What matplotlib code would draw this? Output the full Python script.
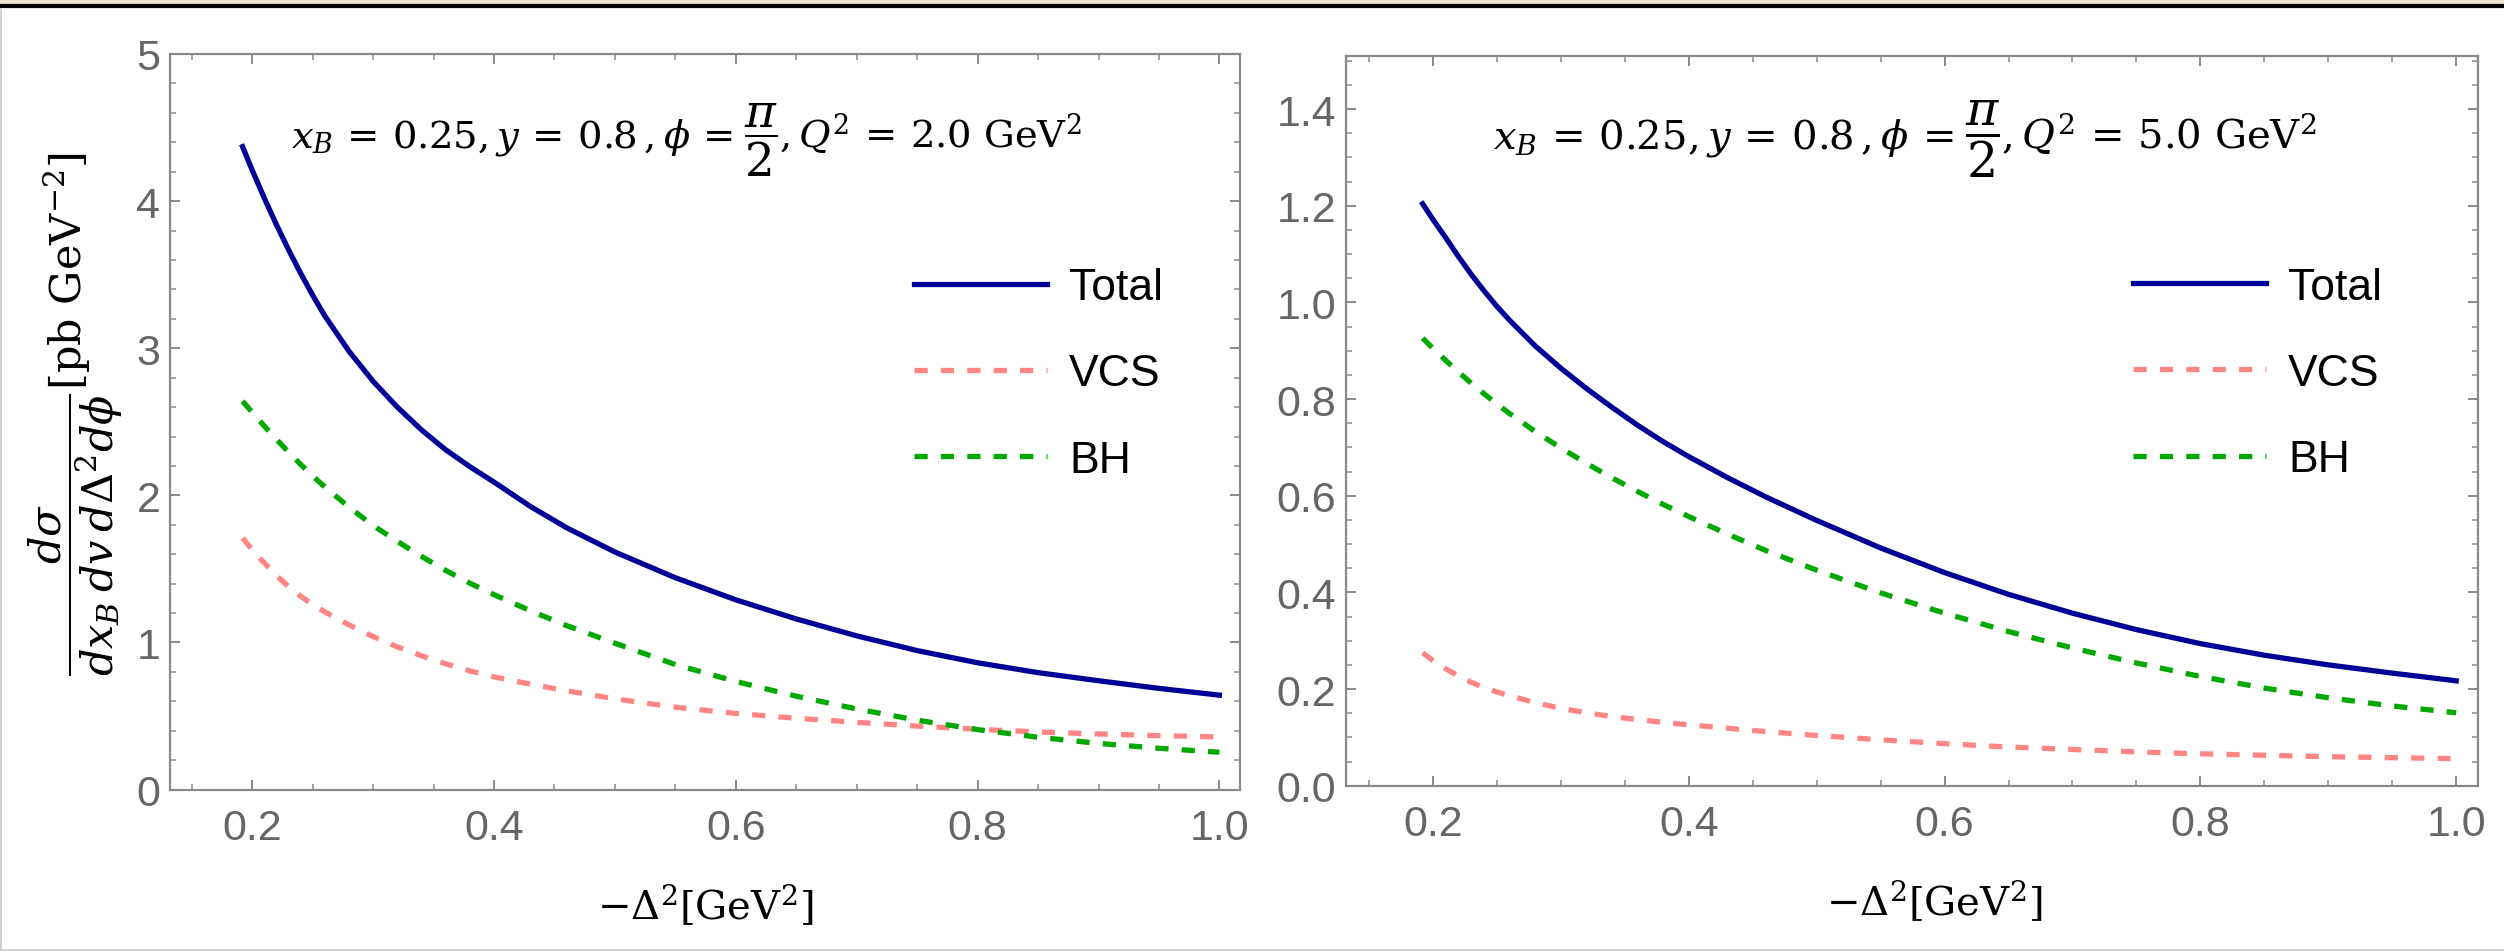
import matplotlib
matplotlib.use("Agg")
import matplotlib.pyplot as plt
from matplotlib.ticker import MultipleLocator, FormatStrFormatter
from matplotlib.lines import Line2D
from matplotlib.patches import Rectangle

# -Delta^2 values where the curves were read
t = [0.192, 0.20, 0.21, 0.22, 0.23, 0.24, 0.25, 0.26, 0.28, 0.30, 0.32, 0.34,
     0.36, 0.38, 0.40, 0.43, 0.46, 0.50, 0.55, 0.60, 0.65, 0.70, 0.75, 0.80,
     0.85, 0.90, 0.95, 1.00]

# Q^2 = 2.0 GeV^2
total_q2 = [4.37, 4.21, 4.02, 3.84, 3.67, 3.51, 3.36, 3.22, 2.98, 2.775, 2.60, 2.445,
            2.31, 2.195, 2.09, 1.925, 1.78, 1.615, 1.44, 1.29, 1.16, 1.045, 0.945, 0.862,
            0.795, 0.74, 0.688, 0.642]
vcs_q2 = [1.71, 1.63, 1.54, 1.455, 1.38, 1.315, 1.258, 1.208, 1.12, 1.04, 0.97, 0.91,
          0.855, 0.807, 0.766, 0.717, 0.672, 0.617, 0.56, 0.518, 0.485, 0.457, 0.432, 0.41,
          0.392, 0.378, 0.367, 0.358]
bh_q2 = [2.64, 2.564, 2.471, 2.381, 2.294, 2.211, 2.131, 2.058, 1.92, 1.795, 1.687, 1.585,
         1.49, 1.403, 1.325, 1.216, 1.115, 0.995, 0.85, 0.735, 0.635, 0.548, 0.472, 0.408,
         0.356, 0.314, 0.281, 0.254]

# Q^2 = 5.0 GeV^2
total_q5 = [1.204, 1.172, 1.134, 1.095, 1.058, 1.024, 0.992, 0.963, 0.91, 0.864, 0.822, 0.783,
            0.746, 0.712, 0.681, 0.638, 0.598, 0.549, 0.492, 0.441, 0.396, 0.357, 0.323, 0.294,
            0.27, 0.25, 0.233, 0.217]
vcs_q5 = [0.275, 0.259, 0.242, 0.227, 0.214, 0.203, 0.194, 0.186, 0.172, 0.16, 0.151, 0.143,
          0.137, 0.131, 0.126, 0.119, 0.112, 0.104, 0.095, 0.087, 0.08, 0.075, 0.07, 0.066,
          0.063, 0.06, 0.058, 0.056]
bh_q5 = [0.926, 0.905, 0.88, 0.856, 0.833, 0.811, 0.79, 0.77, 0.733, 0.699, 0.667, 0.637,
         0.609, 0.582, 0.557, 0.521, 0.487, 0.446, 0.399, 0.357, 0.319, 0.285, 0.254, 0.226,
         0.202, 0.182, 0.165, 0.151]

q2_vals = ["2.0", "5.0"]

plt.rcParams['mathtext.fontset'] = 'dejavuserif'
plt.rcParams['font.family'] = ['Liberation Sans', 'DejaVu Sans']

navy = "#000096"
pink = "#ff8585"
green = "#00a800"
grey = "#8a8a8a"

fig = plt.figure(figsize=(25.04, 9.53), dpi=100)
ax1 = fig.add_axes([0.0679, 0.1704, 0.4273, 0.7719])
ax2 = fig.add_axes([0.5375, 0.1745, 0.4521, 0.7657])

datos = [(ax1, total_q2, vcs_q2, bh_q2), (ax2, total_q5, vcs_q5, bh_q5)]

for i, (ax, tot, vcs, bh) in enumerate(datos):
    ax.plot(t, tot, color=navy, lw=3.8, label="Total", solid_joinstyle="round")
    ax.plot(t, vcs, color=pink, lw=3.8, dashes=(2.5, 2.5), label="VCS")
    ax.plot(t, bh, color=green, lw=3.8, dashes=(2.5, 2.5), label="BH")

    ax.set_xlim(0.132, 1.017)
    ax.xaxis.set_major_locator(MultipleLocator(0.2))
    ax.xaxis.set_minor_locator(MultipleLocator(0.05))
    ax.xaxis.set_major_formatter(FormatStrFormatter("%.1f"))

    for s in ax.spines.values():
        s.set_color(grey)
        s.set_linewidth(1.6)
    ax.tick_params(which="both", direction="in", top=True, right=True,
                   color=grey, labelcolor="#666666", labelsize=31)
    ax.tick_params(which="major", length=7, width=1.4)
    ax.tick_params(which="minor", length=4, width=1.1)
    ax.tick_params(axis="x", pad=13)
    ax.tick_params(axis="y", pad=7)

    ax.set_xlabel(r"$-\Delta^2[\mathrm{GeV}^2]$", fontsize=29)

    ax.legend(loc="center left", bbox_to_anchor=(0.695, 0.565), frameon=False,
              fontsize=32, handlelength=3.0, handletextpad=0.5, labelspacing=1.02,
              borderpad=0, borderaxespad=0)

ax1.xaxis.set_label_coords(0.5, -0.125)
ax2.xaxis.set_label_coords(0.52, -0.125)

ax1.set_ylim(0, 5)
ax1.yaxis.set_major_locator(MultipleLocator(1))
ax1.yaxis.set_minor_locator(MultipleLocator(0.2))

ax2.set_ylim(0, 1.51)
ax2.yaxis.set_major_locator(MultipleLocator(0.2))
ax2.yaxis.set_minor_locator(MultipleLocator(0.05))
ax2.yaxis.set_major_formatter(FormatStrFormatter("%.1f"))

# texto de parametros en tres piezas, para que pi/2 salga grande
for ax, q2, x0, y0, fs in [(ax1, q2_vals[0], 0.113, 0.874, 27.7),
                           (ax2, q2_vals[1], 0.130, 0.875, 28.9)]:
    izq = ax.text(x0, y0, r"$x_B\,=\,0.25, y\,=\,0.8\,, \phi\,=$", transform=ax.transAxes,
                  ha="left", va="baseline", fontsize=fs)
    frac = ax.annotate(r"$\dfrac{\pi}{2}$", xy=(1, y0), xycoords=(izq, ax.transAxes),
                       xytext=(0.28 * fs, 0), textcoords="offset points",
                       ha="left", va="baseline", fontsize=fs * 1.22)
    ax.annotate(r"$, Q^2\,=\,%s\ \mathrm{GeV}^2$" % q2, xy=(1, y0),
                xycoords=(frac, ax.transAxes), xytext=(1, 0), textcoords="offset points",
                ha="left", va="baseline", fontsize=fs)

ax1.set_ylabel(r"$\dfrac{d\sigma}{dx_B\:dv\:d\Delta^2d\phi}[\mathrm{pb\ GeV}^{-2}]$", fontsize=31)
ax1.yaxis.set_label_coords(-0.042, 0.512)

# marco de la captura
fig.add_artist(Rectangle((0, 1 - 5 / 953), 1, 5 / 953, transform=fig.transFigure,
                         color="#efe4cf", lw=0))
fig.add_artist(Line2D([0, 1], [1 - 7 / 953, 1 - 7 / 953], transform=fig.transFigure,
                      color="black", lw=3))
fig.add_artist(Line2D([0.0004, 0.0004], [0.002, 0.99], transform=fig.transFigure,
                      color="#c8c8c8", lw=1.2))
fig.add_artist(Line2D([0, 1], [0.0016, 0.0016], transform=fig.transFigure,
                      color="#c8c8c8", lw=1.2))

fig.savefig("out.png", dpi=100)
